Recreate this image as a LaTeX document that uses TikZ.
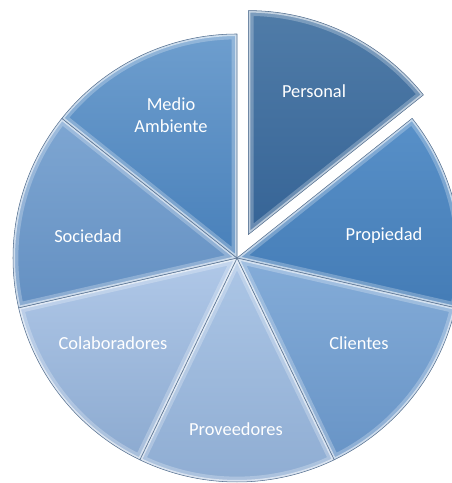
\documentclass[tikz,border=0pt]{standalone}
\usepackage{fontspec}
\setmainfont{Carlito}
\usepackage{tikz}
\definecolor{persTop}{RGB}{80,124,168}
\definecolor{persBot}{RGB}{54,100,150}
\definecolor{propTop}{RGB}{88,144,200}
\definecolor{propBot}{RGB}{68,124,182}
\definecolor{cliTop}{RGB}{132,172,216}
\definecolor{cliBot}{RGB}{104,148,198}
\definecolor{provTop}{RGB}{172,198,230}
\definecolor{provBot}{RGB}{142,172,210}
\definecolor{colTop}{RGB}{176,200,232}
\definecolor{colBot}{RGB}{140,170,208}
\definecolor{socTop}{RGB}{126,166,210}
\definecolor{socBot}{RGB}{100,144,194}
\definecolor{medTop}{RGB}{110,158,206}
\definecolor{medBot}{RGB}{72,128,186}
\definecolor{rim}{RGB}{90,115,145}
\tikzstyle{slicetext} = [text=white, font=\fontsize{13.8}{16.5}\selectfont, align=center]
% one slice: centre, start angle, end angle, top colour, bottom colour
\newcommand{\pieslice}[5]{
  \path[top color=#4, bottom color=#5] #1 -- ++(#2:168pt) arc[start angle=#2, end angle=#3, radius=168pt] -- cycle;
  \begin{scope}
    \clip #1 -- ++(#2:168pt) arc[start angle=#2, end angle=#3, radius=168pt] -- cycle;
    \draw[white, opacity=0.25, line width=8pt, line join=round] #1 -- ++(#2:168pt) arc[start angle=#2, end angle=#3, radius=168pt] -- cycle;
    \draw[white, opacity=0.55, line width=3pt, line join=round] #1 -- ++(#2:168pt) arc[start angle=#2, end angle=#3, radius=168pt] -- cycle;
  \end{scope}
  \draw[rim, line width=0.4pt, line join=round] #1 -- ++(#2:168pt) arc[start angle=#2, end angle=#3, radius=168pt] -- cycle;
}

\begin{document}
\begin{tikzpicture}[x=0.75pt, y=0.75pt]
\useasboundingbox (0,0) rectangle (452,483);
\pieslice{(248.3,248.4)}{90}{38.57}{persTop}{persBot}
\pieslice{(237,225)}{38.57}{-12.86}{propTop}{propBot}
\pieslice{(237,225)}{-12.86}{-64.29}{cliTop}{cliBot}
\pieslice{(237,225)}{-64.29}{-115.71}{provTop}{provBot}
\pieslice{(237,225)}{-115.71}{-167.14}{colTop}{colBot}
\pieslice{(237,225)}{-167.14}{-218.57}{socTop}{socBot}
\pieslice{(237,225)}{141.43}{90}{medTop}{medBot}
\node (personal)[slicetext] at (314,392) {Personal};
\node (propiedad)[slicetext] at (384,247) {Propiedad};
\node (clientes)[slicetext] at (359,140) {Clientes};
\node (proveedores)[slicetext] at (236,54) {Proveedores};
\node (colaboradores)[slicetext] at (113,140) {Colaboradores};
\node (sociedad)[slicetext] at (88,247) {Sociedad};
\node (medio)[slicetext] at (171,368) {Medio\\Ambiente};
\end{tikzpicture}
\end{document}
